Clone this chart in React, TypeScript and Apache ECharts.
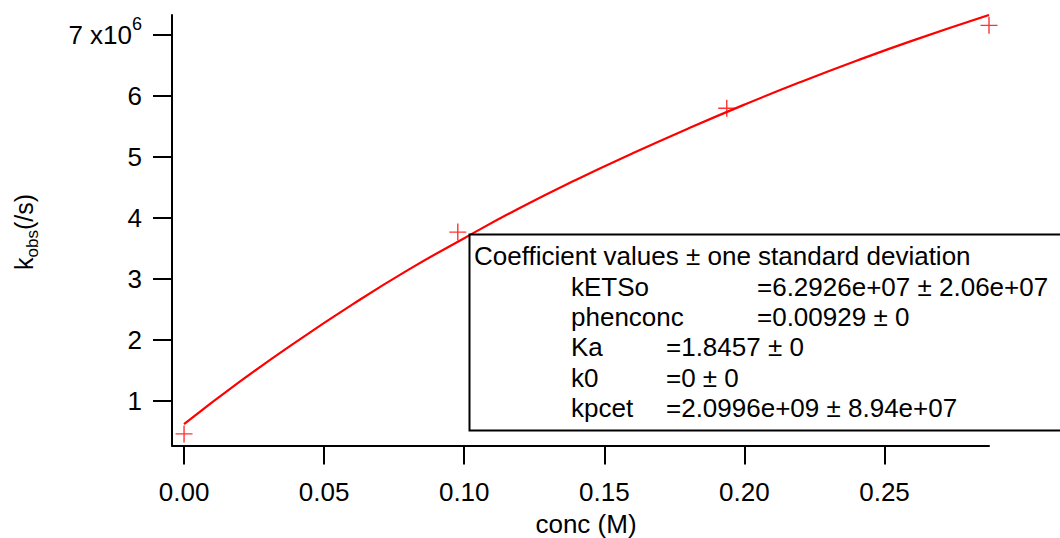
import React, { useEffect, useRef } from "react";
import * as echarts from "echarts";

// measured points (conc in M, kobs in units of 1e6 /s)
const concData = [0, 0.0977, 0.1937, 0.2873];
const kobsData = [0.46, 3.77, 5.8, 7.16];

// fitted curve
const fitConc = [0, 0.02, 0.04, 0.06, 0.08, 0.1, 0.12, 0.14, 0.16, 0.18, 0.2, 0.22, 0.24, 0.26, 0.2873];
const fitKobs = [0.62, 1.32, 1.97, 2.58, 3.15, 3.67, 4.17, 4.63, 5.06, 5.47, 5.86, 6.23, 6.58, 6.91, 7.33];

const xTicks = [0, 0.05, 0.1, 0.15, 0.2, 0.25];
const yTicks = [1, 2, 3, 4, 5, 6, 7];

const coefTitle = "Coefficient values ± one standard deviation";
const coefNames = ["kETSo", "phenconc", "Ka", "k0", "kpcet"];
const coefValues = ["=6.2926e+07 ± 2.06e+07", "=0.00929 ± 0", "=1.8457 ± 0", "=0 ± 0", "=2.0996e+09 ± 8.94e+07"];
const coefValueX = [757, 757, 666, 666, 666];

const FONT = "'Liberation Sans', Arial, sans-serif";

export default function App() {
  const ref = useRef<HTMLDivElement>(null);
  useEffect(() => {
    if (!ref.current) return;
    const chart = echarts.init(ref.current, null, { renderer: "svg" });
    const textEls: any[] = [];
    textEls.push({
      type: "text",
      x: 474,
      y: 256,
      z: 101,
      style: { text: coefTitle, fontSize: 26, fontFamily: FONT, fill: "#000", verticalAlign: "middle", align: "left" },
    });
    coefNames.forEach((n, i) => {
      const cy = 286.5 + i * 30.4;
      textEls.push({
        type: "text", x: 571, y: cy, z: 101,
        style: { text: n, fontSize: 26, fontFamily: FONT, fill: "#000", verticalAlign: "middle", align: "left" },
      });
      textEls.push({
        type: "text", x: coefValueX[i], y: cy, z: 101,
        style: { text: coefValues[i], fontSize: 26, fontFamily: FONT, fill: "#000", verticalAlign: "middle", align: "left" },
      });
    });

    chart.setOption({
      animation: false,
      backgroundColor: "#fff",
      grid: { left: 172, right: 71, top: 15, bottom: 92.5, containLabel: false },
      xAxis: {
        type: "value",
        min: -0.0043,
        max: 0.2873,
        axisLine: { show: true, onZero: false, lineStyle: { color: "#000", width: 2 } },
        axisTick: { show: true, inside: false, length: 19, lineStyle: { color: "#000", width: 2 }, customValues: xTicks },
        axisLabel: {
          show: true, customValues: xTicks, margin: 33, fontSize: 26, fontFamily: FONT, color: "#000",
          formatter: (v: number) => v.toFixed(2),
        },
        splitLine: { show: false },
      },
      yAxis: {
        type: "value",
        min: 0.27e6,
        max: 7.33e6,
        axisLine: { show: true, onZero: false, lineStyle: { color: "#000", width: 2 } },
        axisTick: { show: true, inside: false, length: 19, lineStyle: { color: "#000", width: 2 }, customValues: yTicks.map((t) => t * 1e6) },
        axisLabel: {
          show: true, customValues: yTicks.map((t) => t * 1e6), margin: 30, fontSize: 26, fontFamily: FONT, color: "#000",
          formatter: (v: number) => {
            const n = Math.round(v / 1e6);
            return n === 7 ? "{m|7 x10}{s|6}" : "{m|" + n + "}";
          },
          rich: {
            m: { fontSize: 26, fontFamily: FONT, color: "#000" },
            s: { fontSize: 18, fontFamily: FONT, color: "#000", padding: [0, 0, 22, 0] },
          },
        },
        splitLine: { show: false },
      },
      series: [
        {
          type: "line",
          data: fitConc.map((c, i) => [c, fitKobs[i] * 1e6]),
          showSymbol: false,
          smooth: true,
          lineStyle: { color: "#ff0000", width: 2.2 },
          z: 2,
        },
        {
          type: "scatter",
          data: concData.map((c, i) => [c, kobsData[i] * 1e6]),
          symbol: "path://M0,8L16,8M8,0L8,16",
          symbolSize: 17,
          itemStyle: { color: "rgba(0,0,0,0)", borderColor: "#ff0000", borderWidth: 1.4 },
          z: 3,
        },
      ],
      graphic: [
        {
          type: "rect",
          z: 100,
          shape: { x: 469.5, y: 234.5, width: 620, height: 196 },
          style: { fill: "#fff", stroke: "#000", lineWidth: 2 },
        },
        ...textEls,
        {
          type: "group",
          x: 33,
          y: 270,
          rotation: Math.PI / 2,
          children: [
            { type: "text", x: 0, y: -8.7, style: { text: "k", fontSize: 25, fontFamily: FONT, fill: "#000", verticalAlign: "middle", align: "left" } },
            { type: "text", x: 12.5, y: -1, style: { text: "obs", fontSize: 17, fontFamily: FONT, fill: "#000", verticalAlign: "middle", align: "left" } },
            { type: "text", x: 40, y: -8.7, style: { text: "(/s)", fontSize: 25, fontFamily: FONT, fill: "#000", verticalAlign: "middle", align: "left" } },
          ],
        },
        {
          type: "text",
          x: 586,
          y: 524,
          style: { text: "conc (M)", fontSize: 26, fontFamily: FONT, fill: "#000", verticalAlign: "middle", align: "center" },
        },
      ],
    });
    return () => chart.dispose();
  }, []);
  return <div ref={ref} style={{ position: "fixed", left: 0, top: 0, width: 1060, height: 538, background: "#fff" }} />;
}
